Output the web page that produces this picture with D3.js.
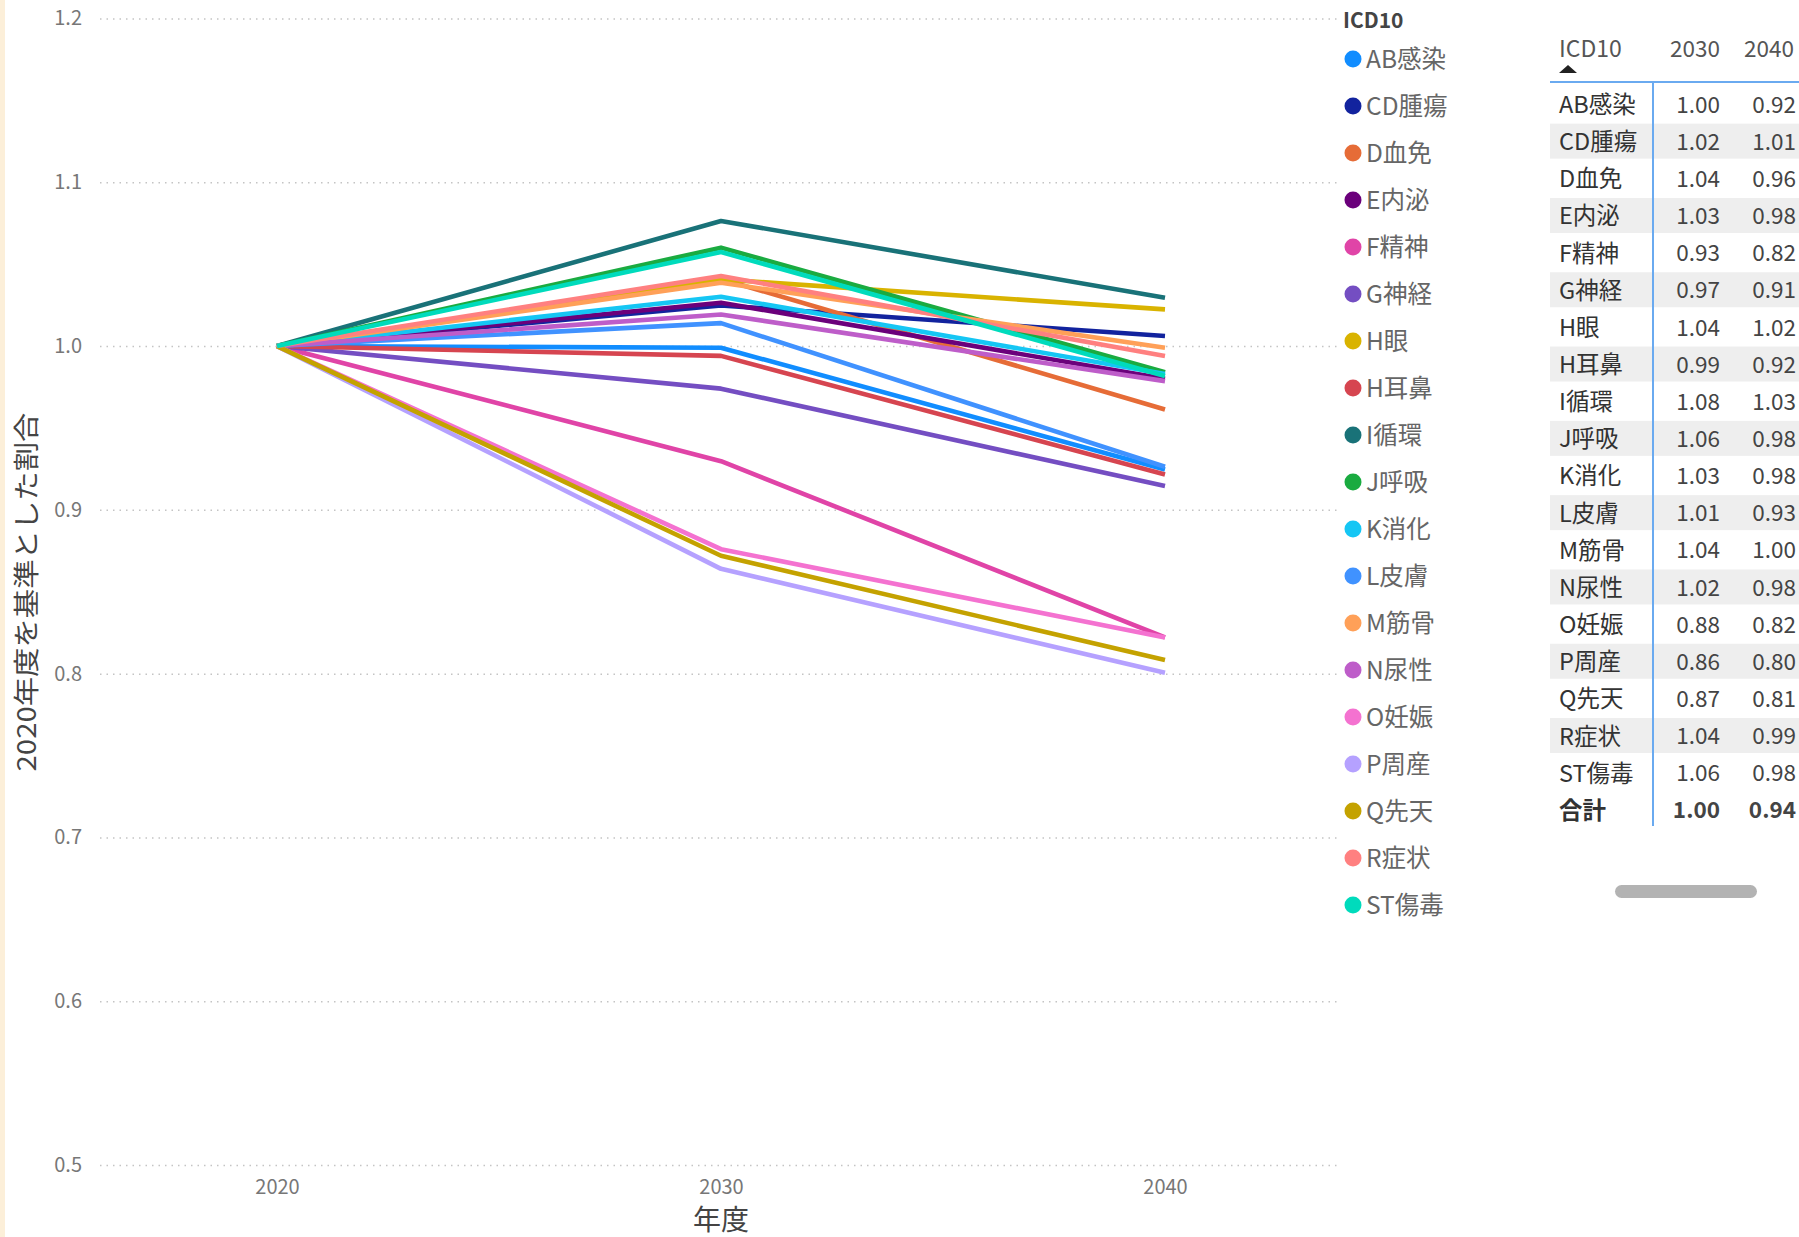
<!DOCTYPE html>
<html><head><meta charset="utf-8">
<script src="https://cdn.jsdelivr.net/npm/d3@7"></script>
<style>
html,body{margin:0;padding:0;background:#fff;}
svg{display:block;font-family:"Noto Sans CJK JP","Noto Sans",sans-serif;}
</style></head>
<body>
<svg id="c" width="1799" height="1237"></svg>
<script>
const years = [2020, 2030, 2040];
const categories = ["AB感染","CD腫瘍","D血免","E内泌","F精神","G神経","H眼","H耳鼻","I循環","J呼吸","K消化","L皮膚","M筋骨","N尿性","O妊娠","P周産","Q先天","R症状","ST傷毒"];
const colors = ["#118DFF","#12239E","#E66C37","#6B007B","#E044A7","#744EC2","#D9B300","#D64550","#197278","#1AAB40","#15C6F4","#4092FF","#FFA058","#BE5DC9","#F472D0","#B5A1FF","#C4A200","#FF8080","#00DBBC"];
const values2020 = [1,1,1,1,1,1,1,1,1,1,1,1,1,1,1,1,1,1,1];
const values2030 = [0.999,1.0248,1.041,1.0265,0.9297,0.974,1.0407,0.994,1.0764,1.0601,1.0301,1.014,1.0387,1.0193,0.876,0.864,0.872,1.0428,1.0574];
const values2040 = [0.9246,1.0061,0.9613,0.980,0.8222,0.9145,1.0224,0.9216,1.0295,0.984,0.983,0.9263,0.999,0.9786,0.822,0.8006,0.8083,0.9939,0.9817];
const totals = ["1.00","0.94"];
const yTicks = [0.5,0.6,0.7,0.8,0.9,1.0,1.1,1.2];
const tableYears = ["2030","2040"];

const svg = d3.select("#c");
const FONT = '"Noto Sans CJK JP","Noto Sans",sans-serif';

// left beige stripe
svg.append("rect").attr("x",0).attr("y",0).attr("width",5).attr("height",1237).attr("fill","#fcefd9");

const x = d3.scaleLinear().domain([2020,2040]).range([277,1165]);
const y = d3.scaleLinear().domain([0.5,1.2]).range([1165,18.5]);
const gridX0 = 100, gridX1 = 1338;

// gridlines
const yAxis = d3.axisLeft(y).tickValues(yTicks).tickFormat(d3.format(".1f")).tickSize(-(gridX1-gridX0)).tickPadding(18);
const gy = svg.append("g").attr("transform",`translate(${gridX0},0)`).call(yAxis);
gy.select(".domain").remove();
gy.selectAll(".tick line").attr("stroke","#c4c4c4").attr("stroke-width",1.5).attr("stroke-dasharray","1.5,5");
gy.selectAll(".tick text").attr("fill","#777").attr("font-size",20).attr("font-family",FONT);

// x axis
const xAxis = d3.axisBottom(x).tickValues(years).tickFormat(d3.format("d")).tickSize(0).tickPadding(15);
const gx = svg.append("g").attr("transform",`translate(0,1165)`).call(xAxis);
gx.select(".domain").remove();
gx.selectAll(".tick text").attr("fill","#777").attr("font-size",20).attr("font-family",FONT);

// axis titles
svg.append("text").attr("x",721).attr("y",1230).attr("text-anchor","middle")
  .attr("font-size",28).attr("fill","#444").text("年度");
svg.append("text").attr("transform","translate(36,592) rotate(-90) scale(1.13,1)")
  .attr("text-anchor","middle").attr("font-size",26).attr("fill","#444").text("2020年度を基準とした割合");

// lines
const series = categories.map((c,i)=>({name:c,color:colors[i],pts:[
  {yr:years[0],v:values2020[i]},{yr:years[1],v:values2030[i]},{yr:years[2],v:values2040[i]}]}));
const line = d3.line().x(d=>x(d.yr)).y(d=>y(d.v));
svg.append("g").selectAll("path").data(series).join("path")
  .attr("d",d=>line(d.pts)).attr("fill","none").attr("stroke",d=>d.color)
  .attr("stroke-width",4.6).attr("stroke-linejoin","round");

// legend
const lg = svg.append("g");
lg.append("text").attr("x",1343).attr("y",28).attr("font-size",21).attr("font-weight","bold").attr("fill","#444").text("ICD10");
const li = lg.selectAll("g.li").data(series).join("g").attr("class","li")
  .attr("transform",(d,i)=>`translate(1353,${59+47*i})`);
li.append("circle").attr("r",8.5).attr("fill",d=>d.color);
li.append("text").attr("x",13).attr("dy","0.36em").attr("font-size",24.5).attr("fill","#666").text(d=>d.name);

// table
const tg = svg.append("g");
const rowY = i => 104.5 + 37.15*i;
const fmt = d3.format(".2f");
const rows = series.map((s,i)=>({label:s.name, a:fmt(values2030[i]), b:fmt(values2040[i]), bold:false}));
rows.push({label:"合計", a:totals[0], b:totals[1], bold:true});
tg.selectAll("rect.band").data(rows.map((r,i)=>i).filter(i=>i%2===1 && !rows[i].bold)).join("rect").attr("class","band")
  .attr("x",1550).attr("width",249).attr("y",i=>rowY(i)-18).attr("height",35).attr("fill","#eeeeee");
// header
tg.append("text").attr("x",1559).attr("y",57).attr("font-size",23).attr("fill","#555").text("ICD10");
tg.append("path").attr("d","M1559,73 L1577,73 L1568,65 Z").attr("fill","#222");
tg.selectAll("text.hy").data(tableYears).join("text").attr("class","hy")
  .attr("x",(d,i)=>i===0?1720:1794).attr("y",57).attr("text-anchor","end").attr("font-size",22.5).attr("fill","#555").text(d=>d);
tg.append("line").attr("x1",1550).attr("x2",1799).attr("y1",82).attr("y2",82).attr("stroke","#6aaaf0").attr("stroke-width",2);
tg.append("line").attr("x1",1653).attr("x2",1653).attr("y1",82).attr("y2",826).attr("stroke","#6aaaf0").attr("stroke-width",2);
const tr = tg.selectAll("g.row").data(rows).join("g").attr("class","row").attr("transform",(d,i)=>`translate(0,${rowY(i)})`);
tr.append("text").attr("x",1559).attr("dy","0.36em").attr("font-size",23.5).attr("fill","#333")
  .attr("font-weight",d=>d.bold?"bold":"normal").text(d=>d.label);
tr.append("text").attr("x",1720).attr("dy","0.36em").attr("text-anchor","end").attr("font-size",22.5).attr("fill","#444")
  .attr("font-weight",d=>d.bold?"bold":"normal").text(d=>d.a);
tr.append("text").attr("x",1796).attr("dy","0.36em").attr("text-anchor","end").attr("font-size",22.5).attr("fill","#444")
  .attr("font-weight",d=>d.bold?"bold":"normal").text(d=>d.b);
// scrollbar
tg.append("rect").attr("x",1615).attr("y",885).attr("width",142).attr("height",13).attr("rx",6.5).attr("fill","#b3b3b3");
</script>
</body></html>
